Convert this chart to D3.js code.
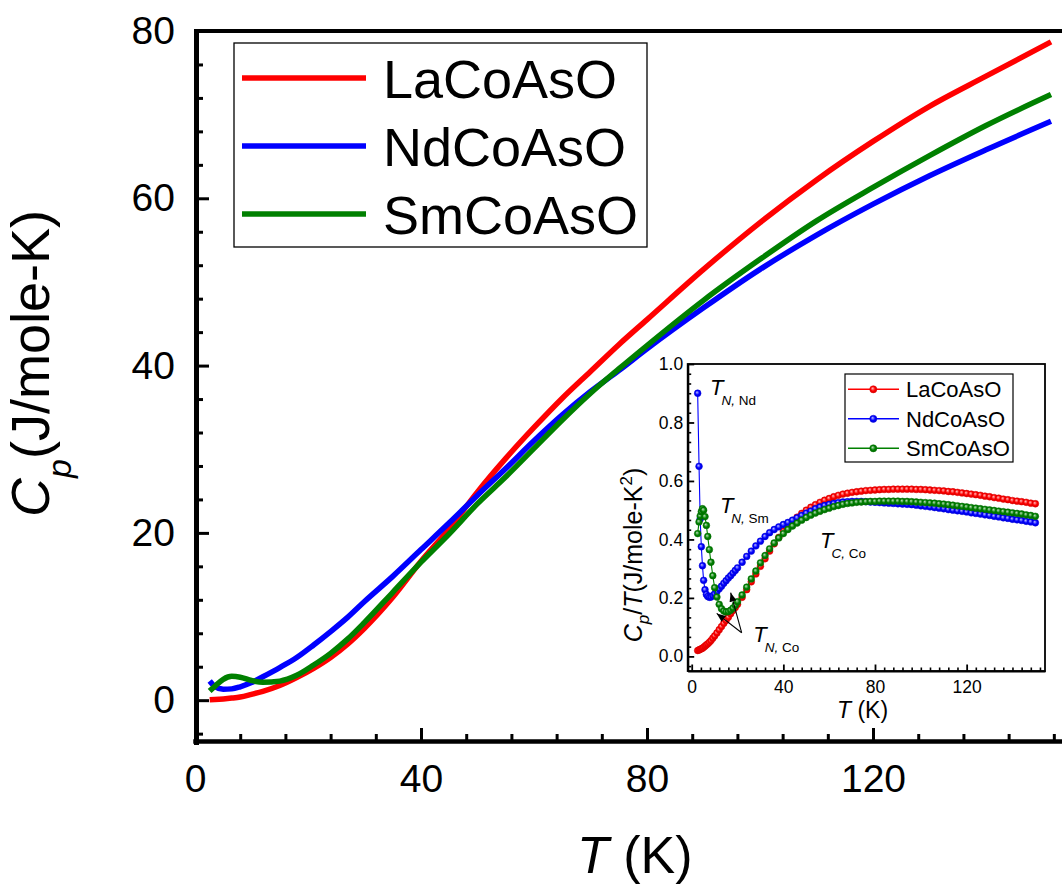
<!DOCTYPE html>
<html>
<head>
<meta charset="utf-8">
<script src="https://cdn.jsdelivr.net/npm/d3@7"></script>
<style>
  body { margin: 0; background: #fff; }
  svg { display: block; font-family: Arial, "Liberation Sans", sans-serif; }
</style>
</head>
<body>
<div id="chart"></div>
<script>
// series
const seriesNames = ["LaCoAsO", "NdCoAsO", "SmCoAsO"];
const seriesColors = ["#ff0000", "#0000ff", "#008000"];

// main panel: Cp (J/mole-K) vs T (K)
const mainTemps = [2.6, 3.5, 5, 6.5, 8, 10, 12, 15, 18, 21, 24, 27, 30, 35, 40, 45, 50, 55, 60, 65, 70, 75, 80, 90, 100, 110, 120, 130, 140, 151.5];
const mainLa = [0.05, 0.08, 0.15, 0.25, 0.38, 0.7, 1.05, 1.75, 2.7, 3.8, 5.1, 6.7, 8.6, 12.3, 16.6, 20.5, 24.9, 28.9, 32.6, 36.1, 39.3, 42.5, 45.5, 51.5, 57.1, 62.2, 66.8, 71.0, 74.6, 78.7];
const mainNd = [2.3, 1.65, 1.3, 1.35, 1.6, 2.1, 2.8, 3.9, 5.1, 6.6, 8.2, 9.9, 11.8, 14.8, 18.0, 21.2, 24.5, 27.7, 31.0, 34.1, 36.9, 39.4, 42.0, 46.9, 51.5, 55.6, 59.3, 62.7, 65.8, 69.2];
const mainSm = [1.1, 1.65, 2.5, 2.85, 2.75, 2.35, 2.14, 2.28, 2.97, 4.2, 5.6, 7.3, 9.3, 12.9, 16.5, 19.9, 23.5, 26.7, 30.1, 33.5, 36.7, 39.6, 42.4, 47.8, 52.7, 57.3, 61.3, 65.1, 68.7, 72.4];

// inset: Cp/T (J/mole-K^2) vs T (K)
const insetTemps = [2.6, 3.2, 3.7, 4.2, 4.7, 5.2, 5.8, 6.4, 7.0, 7.7, 8.4, 9.2, 10, 11, 12, 13, 14, 15, 16, 17, 18, 19, 20,
  22, 24, 26, 28, 30, 32, 34, 36, 38, 40, 42, 44, 46, 48, 50, 52, 54, 56, 58, 60, 62, 64, 66, 68, 70, 72, 74, 76, 78, 80,
  82, 84, 86, 88, 90, 92, 94, 96, 98, 100, 102, 104, 106, 108, 110, 112, 114, 116, 118, 120, 122, 124, 126, 128, 130,
  132, 134, 136, 138, 140, 142, 144, 146, 148, 150];
const insetLa = [0.02, 0.022, 0.024, 0.026, 0.028, 0.031, 0.035, 0.039, 0.043, 0.048, 0.054, 0.062, 0.07, 0.08, 0.091, 0.102, 0.113, 0.123, 0.134, 0.146, 0.157, 0.167, 0.178,
  0.202, 0.228, 0.255, 0.282, 0.308, 0.334, 0.36, 0.385, 0.407, 0.428, 0.446, 0.462, 0.476, 0.489, 0.5, 0.51, 0.519, 0.527, 0.534, 0.54, 0.546, 0.551, 0.555, 0.558, 0.561, 0.563, 0.565, 0.567, 0.568, 0.569,
  0.57, 0.571, 0.571, 0.572, 0.572, 0.572, 0.572, 0.572, 0.571, 0.571, 0.57, 0.569, 0.568, 0.567, 0.566, 0.564, 0.563, 0.561, 0.559, 0.557, 0.555, 0.553, 0.551, 0.548, 0.546,
  0.543, 0.541, 0.538, 0.536, 0.533, 0.531, 0.529, 0.527, 0.524, 0.522];
const insetNd = [0.9, 0.65, 0.47, 0.375, 0.31, 0.26, 0.228, 0.212, 0.205, 0.202, 0.203, 0.208, 0.214, 0.222, 0.231, 0.24, 0.25, 0.259, 0.268, 0.276, 0.285, 0.294, 0.303,
  0.322, 0.342, 0.36, 0.378, 0.394, 0.41, 0.423, 0.434, 0.443, 0.451, 0.458, 0.466, 0.474, 0.482, 0.49, 0.497, 0.505, 0.511, 0.516, 0.52, 0.523, 0.526, 0.528, 0.529, 0.53, 0.53, 0.53, 0.529, 0.528, 0.527,
  0.526, 0.525, 0.524, 0.523, 0.522, 0.521, 0.52, 0.519, 0.517, 0.515, 0.513, 0.511, 0.509, 0.507, 0.505, 0.502, 0.5, 0.498, 0.496, 0.494, 0.491, 0.489, 0.487, 0.484, 0.482,
  0.479, 0.477, 0.474, 0.472, 0.469, 0.467, 0.465, 0.462, 0.46, 0.457];
const insetSm = [0.42, 0.46, 0.48, 0.495, 0.505, 0.5, 0.478, 0.448, 0.41, 0.365, 0.322, 0.276, 0.235, 0.203, 0.178, 0.163, 0.155, 0.152, 0.153, 0.158, 0.165, 0.175, 0.187,
  0.21, 0.237, 0.265, 0.292, 0.32, 0.345, 0.368, 0.388, 0.405, 0.42, 0.434, 0.446, 0.456, 0.466, 0.475, 0.483, 0.49, 0.496, 0.502, 0.507, 0.512, 0.516, 0.52, 0.523, 0.525, 0.527, 0.528, 0.529, 0.53, 0.53,
  0.531, 0.531, 0.531, 0.531, 0.531, 0.53, 0.53, 0.529, 0.528, 0.527, 0.526, 0.525, 0.524, 0.522, 0.521, 0.519, 0.517, 0.515, 0.513, 0.511, 0.509, 0.507, 0.505, 0.503, 0.501,
  0.499, 0.497, 0.495, 0.493, 0.491, 0.489, 0.487, 0.484, 0.482, 0.479];

// ticks
const mainXTicks = [0, 40, 80, 120];
const mainYTicks = [0, 20, 40, 60, 80];
const insetXTicks = [0, 40, 80, 120];
const insetYTicks = [0, 0.2, 0.4, 0.6, 0.8, 1.0];

// inset annotations (T, value of the "T" glyph baseline)
const noteLabels = [
  { sub1: "N,", sub2: " Nd", t: 8.0, v: 0.895 },
  { sub1: "N,", sub2: " Sm", t: 12.3, v: 0.489 },
  { sub1: "C,", sub2: " Co", t: 56, v: 0.37 },
  { sub1: "N,", sub2: " Co", t: 26.9, v: 0.05 }
];
const arrowTail = [21.8, 0.081];
const arrowTips = [[10.9, 0.147], [17.0, 0.218]];

const width = 1062, height = 888;
const svg = d3.select("#chart").append("svg")
    .attr("width", width)
    .attr("height", height);

const defs = svg.append("defs");

// ---------- main panel ----------
const x = d3.scaleLinear().domain([0, 153.8]).range([195, 1064]);
const y = d3.scaleLinear().domain([-5, 80]).range([742, 31]);

// top frame line (right frame is off the picture)
svg.append("line")
    .attr("x1", 194).attr("x2", width)
    .attr("y1", 31).attr("y2", 31)
    .attr("stroke", "#000").attr("stroke-width", 4);

const styleAxis = (g, w) => {
    g.select(".domain").attr("stroke-width", w);
    g.selectAll(".tick line").attr("stroke-width", 3);
};

// minor ticks first, majors on top
svg.append("g")
    .attr("transform", "translate(0,741)")
    .call(d3.axisBottom(x).tickValues(d3.range(8, 154, 8).filter(d => d % 40 !== 0)).tickSize(-7).tickSizeOuter(0).tickFormat(""))
    .call(g => { g.select(".domain").remove(); g.selectAll(".tick line").attr("stroke-width", 3); });

svg.append("g")
    .attr("transform", "translate(196,0)")
    .call(d3.axisLeft(y).tickValues(d3.range(-4, 81, 4).filter(d => d % 20 !== 0)).tickSize(-7).tickSizeOuter(0).tickFormat(""))
    .call(g => { g.select(".domain").remove(); g.selectAll(".tick line").attr("stroke-width", 3); });

svg.append("g")
    .attr("transform", "translate(0,741)")
    .call(d3.axisBottom(x).tickValues(mainXTicks).tickSize(-13).tickSizeOuter(0).tickPadding(23))
    .call(g => styleAxis(g, 4.5))
    .call(g => g.selectAll("text").attr("font-size", 39).attr("font-family", null).attr("fill", "#000"));

svg.append("g")
    .attr("transform", "translate(196,0)")
    .call(d3.axisLeft(y).tickValues(mainYTicks).tickSize(-13).tickSizeOuter(0).tickPadding(21))
    .call(g => styleAxis(g, 5))
    .call(g => g.selectAll("text").attr("font-size", 39).attr("font-family", null).attr("fill", "#000"));

svg.selectAll(".domain").attr("stroke-linecap", "square");

// main curves
const mainSeries = [mainLa, mainNd, mainSm];
const mainLine = d3.line()
    .x((d, i) => x(mainTemps[i]))
    .y(d => y(d))
    .curve(d3.curveMonotoneX);

mainSeries.forEach((vals, k) => {
    svg.append("path")
        .datum(vals)
        .attr("d", mainLine)
        .attr("fill", "none")
        .attr("stroke", seriesColors[k])
        .attr("stroke-width", 5.5)
        .attr("stroke-linejoin", "round");
});

// main legend
const legend = svg.append("g");
legend.append("rect")
    .attr("x", 234).attr("y", 43)
    .attr("width", 413).attr("height", 204)
    .attr("fill", "#fff").attr("stroke", "#000").attr("stroke-width", 1.3);
seriesNames.forEach((name, k) => {
    const cy = 78 + k * 68;
    legend.append("line")
        .attr("x1", 242).attr("x2", 366)
        .attr("y1", cy).attr("y2", cy)
        .attr("stroke", seriesColors[k]).attr("stroke-width", 5.5);
    legend.append("text")
        .attr("x", 383).attr("y", cy + 19.5)
        .attr("font-size", 54)
        .text(name);
});

// main axis titles
const xTitle = svg.append("text")
    .attr("x", 577).attr("y", 873)
    .attr("font-size", 52);
xTitle.append("tspan").attr("font-style", "italic").text("T");
xTitle.append("tspan").text(" (K)");

const yTitle = svg.append("text")
    .attr("transform", "translate(49,517) rotate(-90)")
    .attr("font-size", 54);
yTitle.append("tspan").attr("font-style", "italic").text("C");
yTitle.append("tspan").attr("font-style", "italic").attr("font-size", 34).attr("dy", 22).text("p");
yTitle.append("tspan").attr("dy", -22).text("(J/mole-K)");

// ---------- inset ----------
const ix = d3.scaleLinear().domain([-1.75, 154.2]).range([687.7, 1045]);
const iy = d3.scaleLinear().domain([-0.05, 1.0]).range([671, 364]);

const inset = svg.append("g");
inset.append("rect")
    .attr("x", ix.range()[0]).attr("y", iy.range()[1])
    .attr("width", ix.range()[1] - ix.range()[0])
    .attr("height", iy.range()[0] - iy.range()[1])
    .attr("fill", "#fff").attr("stroke", "#000").attr("stroke-width", 1.8);

inset.append("g")
    .attr("transform", `translate(0,${iy.range()[0]})`)
    .call(d3.axisBottom(ix).tickValues(d3.range(4, 154, 4).filter(d => d % 40 !== 0)).tickSize(-3.5).tickSizeOuter(0).tickFormat(""))
    .call(g => { g.select(".domain").remove(); g.selectAll(".tick line").attr("stroke-width", 1.6); });

inset.append("g")
    .attr("transform", `translate(${ix.range()[0]},0)`)
    .call(d3.axisLeft(iy).tickValues(d3.range(-1, 31).filter(k => k % 6 !== 0).map(k => k * 0.2 / 6)).tickSize(-3.5).tickSizeOuter(0).tickFormat(""))
    .call(g => { g.select(".domain").remove(); g.selectAll(".tick line").attr("stroke-width", 1.6); });

inset.append("g")
    .attr("transform", `translate(0,${iy.range()[0]})`)
    .call(d3.axisBottom(ix).tickValues(insetXTicks).tickSize(-6.5).tickSizeOuter(0).tickPadding(10))
    .call(g => { g.select(".domain").attr("stroke-width", 2.2); g.selectAll(".tick line").attr("stroke-width", 1.8); })
    .call(g => g.selectAll("text").attr("font-size", 17.5).attr("font-family", null).attr("fill", "#000"));

inset.append("g")
    .attr("transform", `translate(${ix.range()[0]},0)`)
    .call(d3.axisLeft(iy).tickValues(insetYTicks).tickSize(-6.5).tickSizeOuter(0).tickPadding(4.5).tickFormat(d3.format(".1f")))
    .call(g => { g.select(".domain").attr("stroke-width", 2.2); g.selectAll(".tick line").attr("stroke-width", 1.8); })
    .call(g => g.selectAll("text").attr("font-size", 17.5).attr("font-family", null).attr("fill", "#000"));

// ball-style marker gradients
seriesColors.forEach((c, k) => {
    const grad = defs.append("radialGradient")
        .attr("id", "ball" + k)
        .attr("cx", "50%").attr("cy", "50%").attr("r", "55%")
        .attr("fx", "38%").attr("fy", "35%");
    grad.append("stop").attr("offset", "0%").attr("stop-color", d3.interpolateRgb(c, "#fff")(0.75));
    grad.append("stop").attr("offset", "55%").attr("stop-color", c);
    grad.append("stop").attr("offset", "100%").attr("stop-color", d3.color(c).darker(0.6));
});

const insetSeries = [insetLa, insetNd, insetSm];
const insetLine = d3.line()
    .x((d, i) => ix(insetTemps[i]))
    .y(d => iy(d));

insetSeries.forEach((vals, k) => {
    const g = inset.append("g");
    g.append("path")
        .datum(vals)
        .attr("d", insetLine)
        .attr("fill", "none")
        .attr("stroke", seriesColors[k])
        .attr("stroke-width", 1.1);
    g.selectAll("circle")
        .data(vals)
        .enter().append("circle")
        .attr("cx", (d, i) => ix(insetTemps[i]))
        .attr("cy", d => iy(d))
        .attr("r", 3.4)
        .attr("fill", `url(#ball${k})`)
        .attr("stroke", d3.color(seriesColors[k]).darker(0.3))
        .attr("stroke-width", 0.5);
});

// inset legend
const ileg = inset.append("g");
ileg.append("rect")
    .attr("x", 845).attr("y", 374)
    .attr("width", 168).attr("height", 88)
    .attr("fill", "#fff").attr("stroke", "#000").attr("stroke-width", 1.2);
seriesNames.forEach((name, k) => {
    const cy = 389.3 + k * 29.5;
    ileg.append("line")
        .attr("x1", 848).attr("x2", 899)
        .attr("y1", cy).attr("y2", cy)
        .attr("stroke", seriesColors[k]).attr("stroke-width", 1.5);
    ileg.append("circle")
        .attr("cx", 873.3).attr("cy", cy).attr("r", 3.6)
        .attr("fill", `url(#ball${k})`)
        .attr("stroke", d3.color(seriesColors[k]).darker(0.3))
        .attr("stroke-width", 0.5);
    ileg.append("text")
        .attr("x", 906).attr("y", cy + 8)
        .attr("font-size", 22)
        .text(name);
});

// inset axis titles
const ixTitle = inset.append("text")
    .attr("x", 837).attr("y", 718)
    .attr("font-size", 23);
ixTitle.append("tspan").attr("font-style", "italic").text("T");
ixTitle.append("tspan").text(" (K)");

const iyTitle = inset.append("text")
    .attr("transform", "translate(642,555) rotate(-90)")
    .attr("text-anchor", "middle")
    .attr("font-size", 25);
iyTitle.append("tspan").attr("font-style", "italic").text("C");
iyTitle.append("tspan").attr("font-style", "italic").attr("font-size", 17).attr("dy", 7).text("p");
iyTitle.append("tspan").attr("dy", -7).text("/");
iyTitle.append("tspan").attr("font-style", "italic").text("T");
iyTitle.append("tspan").text("(J/mole-K");
iyTitle.append("tspan").attr("font-size", 17).attr("dy", -10).text("2");
iyTitle.append("tspan").attr("dy", 10).text(")");

// annotations
noteLabels.forEach(n => {
    const t = inset.append("text")
        .attr("x", ix(n.t)).attr("y", iy(n.v))
        .attr("font-size", 22);
    t.append("tspan").attr("font-style", "italic").text("T");
    t.append("tspan").attr("font-style", "italic").attr("font-size", 13.5).attr("dx", -2).attr("dy", 10).text(n.sub1);
    t.append("tspan").attr("font-size", 13.5).text(n.sub2);
});

defs.append("marker")
    .attr("id", "arrowhead")
    .attr("viewBox", "0 0 10 10")
    .attr("refX", 10).attr("refY", 5)
    .attr("markerWidth", 9).attr("markerHeight", 9)
    .attr("markerUnits", "userSpaceOnUse")
    .attr("orient", "auto")
    .append("path")
    .attr("d", "M0,1 L10,5 L0,9 Z")
    .attr("fill", "#000");

arrowTips.forEach(tip => {
    inset.append("line")
        .attr("x1", ix(arrowTail[0])).attr("y1", iy(arrowTail[1]))
        .attr("x2", ix(tip[0])).attr("y2", iy(tip[1]))
        .attr("stroke", "#000").attr("stroke-width", 1.1)
        .attr("marker-end", "url(#arrowhead)");
});
</script>
</body>
</html>
